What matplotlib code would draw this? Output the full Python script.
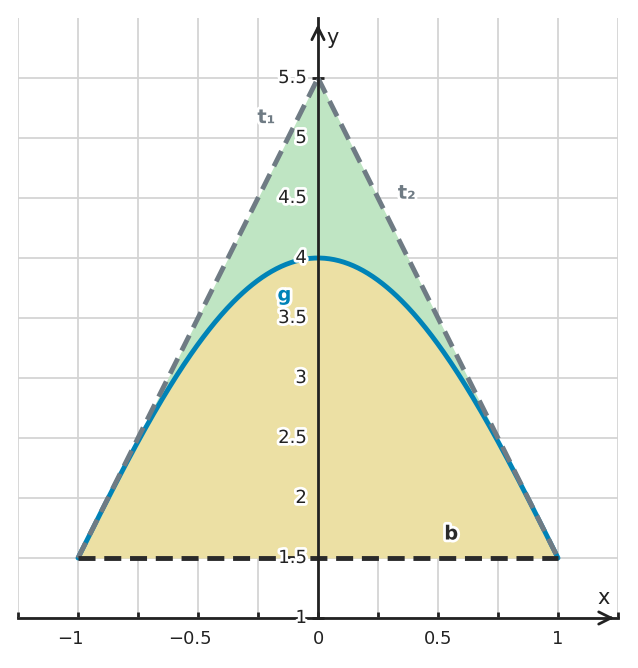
import numpy as np
import matplotlib.pyplot as plt
import matplotlib.patheffects as pe

# curve g and its tangents at x = -1 and x = 1
g_coef = [4.0, -3.0, 0.5]      # g(x) = 4 - 3x^2 + 0.5x^4
t_apex = 5.5
t_slope = 4.0
base_y = 1.5
x_lo, x_hi = -1.0, 1.0

xticks = [-1, -0.5, 0, 0.5, 1]
xtick_labels = ['\u22121', '\u22120.5', '0', '0.5', '1']
yticks = [1, 1.5, 2, 2.5, 3, 3.5, 4, 4.5, 5, 5.5]
ytick_labels = ['1', '1.5', '2', '2.5', '3', '3.5', '4', '4.5', '5', '5.5']

labels = {'t\u2081': (-0.215, 5.17), 't\u2082': (0.37, 4.54), 'g': (-0.14, 3.69), 'b': (0.555, 1.70)}
label_colors = {'t\u2081': '#6f7b84', 't\u2082': '#6f7b84', 'g': '#0083b7', 'b': '#2a2a2a'}

grey = '#6f7b84'
blue = '#0083b7'
dark = '#2a2a2a'

x = np.linspace(x_lo, x_hi, 400)
g = g_coef[0] + g_coef[1] * x**2 + g_coef[2] * x**4
t1 = t_apex + t_slope * x
t2 = t_apex - t_slope * x
tri = np.minimum(t1, t2)

fig = plt.figure(figsize=(6.38, 6.68), dpi=100)
ax = fig.add_axes([18 / 638, 50 / 668, 600 / 638, 600 / 668])
ax.set_xlim(-1.25, 1.25)
ax.set_ylim(1, 6.0)

ax.set_xticks(np.arange(-1.25, 1.26, 0.25))
ax.set_yticks(yticks)
ax.grid(True, color='#d4d4d4', lw=1.3, zorder=0)
ax.set_axisbelow(True)

ax.fill_between(x, g, tri, color='#bfe5c3', lw=0, zorder=1)
ax.fill_between(x, base_y, g, color='#ece0a4', lw=0, zorder=1)

ax.plot(x, g, color=blue, lw=3.5, zorder=3, solid_capstyle='round')
xl = np.array([x_lo, 0])
ax.plot(xl, t_apex + t_slope * xl, color=grey, lw=3.5, dashes=(3.5, 1.8), zorder=4)
xr = np.array([0, x_hi])
ax.plot(xr, t_apex - t_slope * xr, color=grey, lw=3.5, dashes=(3.5, 1.8), zorder=4)
ax.plot([x_lo, x_hi], [base_y, base_y], color=dark, lw=3.5, dashes=(3.5, 1.8), zorder=4)

# axes through the point (0, 1)
for s in ['top', 'right']:
    ax.spines[s].set_visible(False)
ax.spines['left'].set_position(('data', 0))
ax.spines['bottom'].set_position(('data', 1))
for s in ['left', 'bottom']:
    ax.spines[s].set_linewidth(2)
    ax.spines[s].set_color('#222222')
    ax.spines[s].set_zorder(5)
ax.set_xticklabels([])
ax.set_yticklabels([])
ax.tick_params(axis='y', direction='inout', length=8.5, width=2, color='#222222')
ax.tick_params(axis='x', direction='in', length=4, width=2, color='#222222')

fs = 13
minus_w = 0.838 * fs  # advance of the minus sign, in points
stroke = [pe.withStroke(linewidth=4, foreground='white')]
for xv, lab in zip(xticks, xtick_labels):
    dx = -minus_w / 2 if lab.startswith('\u2212') else 0
    ax.annotate(lab, (xv, 1), xytext=(dx, -9), textcoords='offset points',
                ha='center', va='top', fontsize=fs, color='#222222')
for yv, lab in zip(yticks, ytick_labels):
    ax.annotate(lab, (0, yv), xytext=(-8, 0), textcoords='offset points',
                ha='right', va='center', fontsize=fs, color='#222222',
                path_effects=stroke, zorder=6)

# arrows
ax.annotate('', xy=(1.245, 1), xytext=(1.2, 1),
            arrowprops=dict(arrowstyle='->', lw=2, color='#222222', mutation_scale=22),
            annotation_clip=False, zorder=6)
ax.annotate('', xy=(0, 5.97), xytext=(0, 5.85),
            arrowprops=dict(arrowstyle='->', lw=2, color='#222222', mutation_scale=22),
            annotation_clip=False, zorder=6)
ax.text(1.19, 1.08, 'x', fontsize=15, color='#222222', ha='center', va='bottom')
ax.text(0.06, 5.83, 'y', fontsize=15, color='#222222', ha='center', va='center')

for lab, (lx, ly) in labels.items():
    ax.text(lx, ly, lab, fontsize=14, fontweight='bold', color=label_colors[lab],
            ha='center', va='center', path_effects=stroke, zorder=7)

fig.savefig('out.png', dpi=100)
